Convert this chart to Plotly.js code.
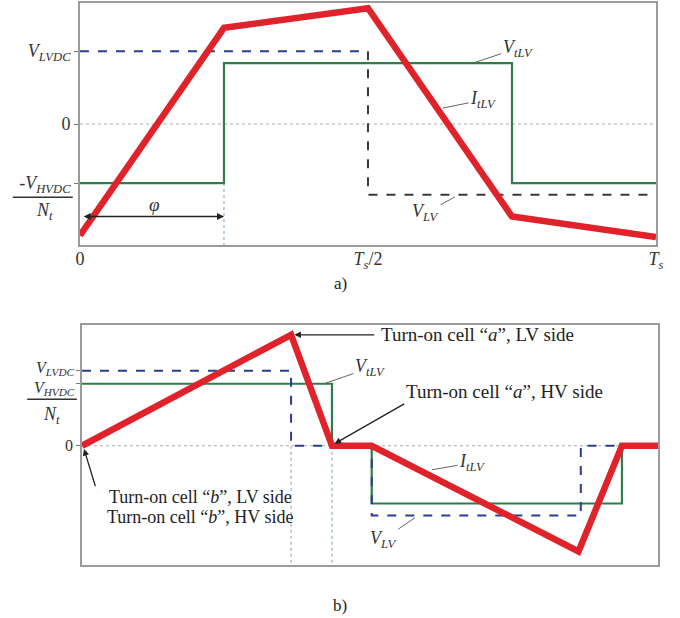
<!DOCTYPE html>
<html>
<head>
<meta charset="utf-8">
<script src="https://cdn.plot.ly/plotly-3.0.1.min.js"></script>
<style>body{margin:0;background:#fff}#plot{width:680px;height:618px}</style>
</head>
<body>
<div id="plot"></div>
<script>
// panel a) (time in units of Ts, voltage in units of V_LVDC)
var aTime = [0, 0.25, 0.5, 0.75, 1];
var aCurrent = [-1.53, 1.32, 1.59, -1.27, -1.55];
var aVtlvX = [0, 0.25, 0.75, 1];
var aVtlvY = [-0.81, 0.836, -0.81, -0.81];
var aVlvHighX = [0, 0.5];
var aVlvHighY = [1, 1];
var aVlvLowX = [0.5, 0.5, 1];
var aVlvLowY = [1, -0.97, -0.97];
var aPhi = 0.25;

// panel b)
var bTime = [0, 0.363, 0.434, 0.503, 0.862, 0.9375, 1];
var bCurrent = [0, 1.48, 0, 0, -1.41, 0, 0];
var bVtlvX = [0, 0.434, 0.503, 0.9375, 1];
var bVtlvY = [0.827, 0, -0.77, 0, 0];
var bVlvX = [0, 0.363, 0.503, 0.866, 0.9375];
var bVlvY = [1, 0, -0.93, 0, 0];
var bDlv = 0.363, bDhv = 0.434;

var serif = "Liberation Serif, Times New Roman, serif";
var red = "#e0232b", green = "#2e7d4a", blue = "#2b3d8f", dark = "#3a3a3a", guide = "#8fb0cf";

function ln(x, y, color, width, dash, xa, ya, shape) {
  return {x: x, y: y, xaxis: xa, yaxis: ya, mode: "lines", type: "scatter", hoverinfo: "skip",
          line: {color: color, width: width, dash: dash || "solid", shape: shape || "linear"}};
}

var traces = [
  ln([0, 1], [0, 0], "#aaaaaa", 1, "dot", "x", "y"),
  ln([aPhi, aPhi], [aVtlvY[0], -1.66], guide, 1.2, "dot", "x", "y"),
  ln(aVtlvX, aVtlvY, green, 2.2, "solid", "x", "y", "hv"),
  ln(aVlvHighX, aVlvHighY, blue, 2, "dash", "x", "y"),
  ln(aVlvLowX, aVlvLowY, dark, 2, "dash", "x", "y"),
  ln(aTime, aCurrent, red, 6.5, "solid", "x", "y"),

  ln([0, 1], [0, 0], "#aaaaaa", 1, "dot", "x2", "y2"),
  ln([bDlv, bDlv], [0, -1.59], guide, 1.2, "dot", "x2", "y2"),
  ln([bDhv, bDhv], [0, -1.59], guide, 1.2, "dot", "x2", "y2"),
  ln(bVtlvX, bVtlvY, green, 2.2, "solid", "x2", "y2", "hv"),
  ln(bVlvX, bVlvY, blue, 2, "dash", "x2", "y2", "hv"),
  ln(bTime, bCurrent, red, 6.5, "solid", "x2", "y2")
];

var axisBase = {showgrid: false, zeroline: false, showline: true, mirror: true,
  linecolor: "#9a9a9a", linewidth: 1.8, fixedrange: true,
  tickfont: {family: serif, size: 18, color: "#333"}};

function ann(text, x, y, xa, ya, opts) {
  var o = {text: text, x: x, y: y, xref: xa, yref: ya, showarrow: false,
           xanchor: "center", yanchor: "middle",
           font: {family: serif, size: 19, color: "#222"}};
  for (var k in (opts || {})) o[k] = opts[k];
  return o;
}
function leader(text, x, y, tx, ty, xa, ya) {
  return ann(text, x, y, xa, ya, {showarrow: true, ax: tx, ay: ty, axref: xa, ayref: ya,
    arrowhead: 0, arrowwidth: 1, arrowcolor: "#666", standoff: 0,
    font: {family: serif, size: 18, color: "#333"}});
}
function pointer(x, y, tx, ty, xa, ya) {
  return ann("", x, y, xa, ya, {showarrow: true, ax: tx, ay: ty, axref: xa, ayref: ya,
    arrowhead: 2, arrowsize: 1, arrowwidth: 1.3, arrowcolor: "#222", standoff: 1});
}

var turnA1 = "Turn-on cell \u201c<i>a</i>\u201d, LV side";
var turnA2 = "Turn-on cell \u201c<i>a</i>\u201d, HV side";
var turnB1 = "Turn-on cell \u201c<i>b</i>\u201d, LV side";
var turnB2 = "Turn-on cell \u201c<i>b</i>\u201d, HV side";
var bLeftLabels = ["<i>V<sub>LVDC</sub></i>", "<i>V<sub>HVDC</sub></i>"];
var small = {family: serif, size: 16, color: "#333"};

var layout = {
  width: 680, height: 618, margin: {l: 0, r: 0, t: 0, b: 0},
  paper_bgcolor: "#fff", plot_bgcolor: "#fff", showlegend: false,
  xaxis: Object.assign({}, axisBase, {domain: [0.1176, 0.9647], range: [0, 1], anchor: "y",
    tickvals: [0, 0.5, 1], ticktext: ["0", "<i>T<sub>s</sub></i>/2", "<i>T<sub>s</sub></i>"],
    ticks: "", ticklabelstandoff: -3}),
  yaxis: Object.assign({}, axisBase, {domain: [0.6036, 0.995], range: [-1.66, 1.66], anchor: "x",
    tickvals: [1, 0, -0.81], ticks: "outside", ticklen: 4, tickcolor: "#777",
    ticktext: ["<i>V<sub>LVDC</sub></i>", "0", "-<i>V<sub>HVDC</sub></i>"]}),
  xaxis2: Object.assign({}, axisBase, {domain: [0.1206, 0.9676], range: [0, 1], anchor: "y2",
    tickvals: [], ticks: ""}),
  yaxis2: Object.assign({}, axisBase, {domain: [0.0858, 0.474], range: [-1.59, 1.61], anchor: "x2",
    tickvals: [1, 0.827, 0], ticks: "outside", ticklen: 4, tickcolor: "#777",
    ticktext: ["", "", "0"], tickfont: small}),
  shapes: [
    {type: "line", xref: "paper", yref: "paper", x0: 0.019, x1: 0.107, y0: 0.681, y1: 0.681,
     line: {color: "#333", width: 1.5}},
    {type: "line", xref: "paper", yref: "paper", x0: 0.040, x1: 0.113, y0: 0.354, y1: 0.354,
     line: {color: "#333", width: 1.5}}
  ],
  annotations: [
    ann("<i>N<sub>t</sub></i>", 0.066, 0.657, "paper", "paper", {font: {family: serif, size: 18, color: "#333"}}),
    ann("<i>N<sub>t</sub></i>", 0.076, 0.328, "paper", "paper", {font: {family: serif, size: 18, color: "#333"}}),
    ann(bLeftLabels[0], 0.113, 0.404, "paper", "paper", {xanchor: "right", font: small}),
    ann(bLeftLabels[1], 0.113, 0.371, "paper", "paper", {xanchor: "right", font: small}),
    ann("a)", 0.5, 0.542, "paper", "paper", {font: {family: serif, size: 17, color: "#222"}}),
    ann("b)", 0.5, 0.021, "paper", "paper", {font: {family: serif, size: 17, color: "#222"}}),
    // phi double arrow
    ann("", aPhi, -1.27, "x", "y", {showarrow: true, ax: 0.004, ay: -1.27, axref: "x", ayref: "y",
      arrowhead: 2, startarrowhead: 2, arrowside: "end+start", arrowwidth: 1.4, arrowcolor: "#222", standoff: 0, startstandoff: 0}),
    ann("<i>\u03c6</i>", 0.13, -1.11, "x", "y", {font: {family: serif, size: 19, color: "#333"}}),
    leader("<i>V<sub>tLV</sub></i>", 0.682, 0.836, 0.76, 1.04, "x", "y"),
    leader("<i>I<sub>tLV</sub></i>", 0.63, 0.22, 0.70, 0.33, "x", "y"),
    leader("<i>V<sub>LV</sub></i>", 0.651, -1.0, 0.60, -1.22, "x", "y"),
    // panel b labels
    ann("0", 0, -1.76, "x2", "y2", {font: small}),
    ann("<i>T<sub>s</sub>D<sub>LV</sub></i>", 0.347, -1.76, "x2", "y2", {font: {family: serif, size: 18, color: "#333"}}),
    ann("<i>T<sub>s</sub>D<sub>HV</sub></i>", 0.455, -1.76, "x2", "y2", {font: {family: serif, size: 18, color: "#333"}}),
    ann("<i>T<sub>s</sub></i>", 0.995, -1.76, "x2", "y2", {font: {family: serif, size: 18, color: "#333"}}),
    ann(turnA1, 0.686, 1.48, "x2", "y2"),
    pointer(bDlv + 0.004, 1.48, 0.51, 1.48, "x2", "y2"),
    ann(turnA2, 0.733, 0.72, "x2", "y2"),
    pointer(bDhv + 0.003, 0.02, 0.562, 0.57, "x2", "y2"),
    ann(turnB1, 0.205, -0.68, "x2", "y2", {font: {family: serif, size: 18, color: "#222"}}),
    ann(turnB2, 0.205, -0.95, "x2", "y2", {font: {family: serif, size: 18, color: "#222"}}),
    pointer(0.003, -0.03, 0.024, -0.56, "x2", "y2"),
    leader("<i>V<sub>tLV</sub></i>", 0.42, 0.827, 0.50, 1.04, "x2", "y2"),
    leader("<i>I<sub>tLV</sub></i>", 0.608, -0.32, 0.677, -0.227, "x2", "y2"),
    leader("<i>V<sub>LV</sub></i>", 0.578, -0.96, 0.523, -1.25, "x2", "y2")
  ]
};

Plotly.newPlot("plot", traces, layout, {displayModeBar: false, staticPlot: true});
</script>
</body>
</html>
